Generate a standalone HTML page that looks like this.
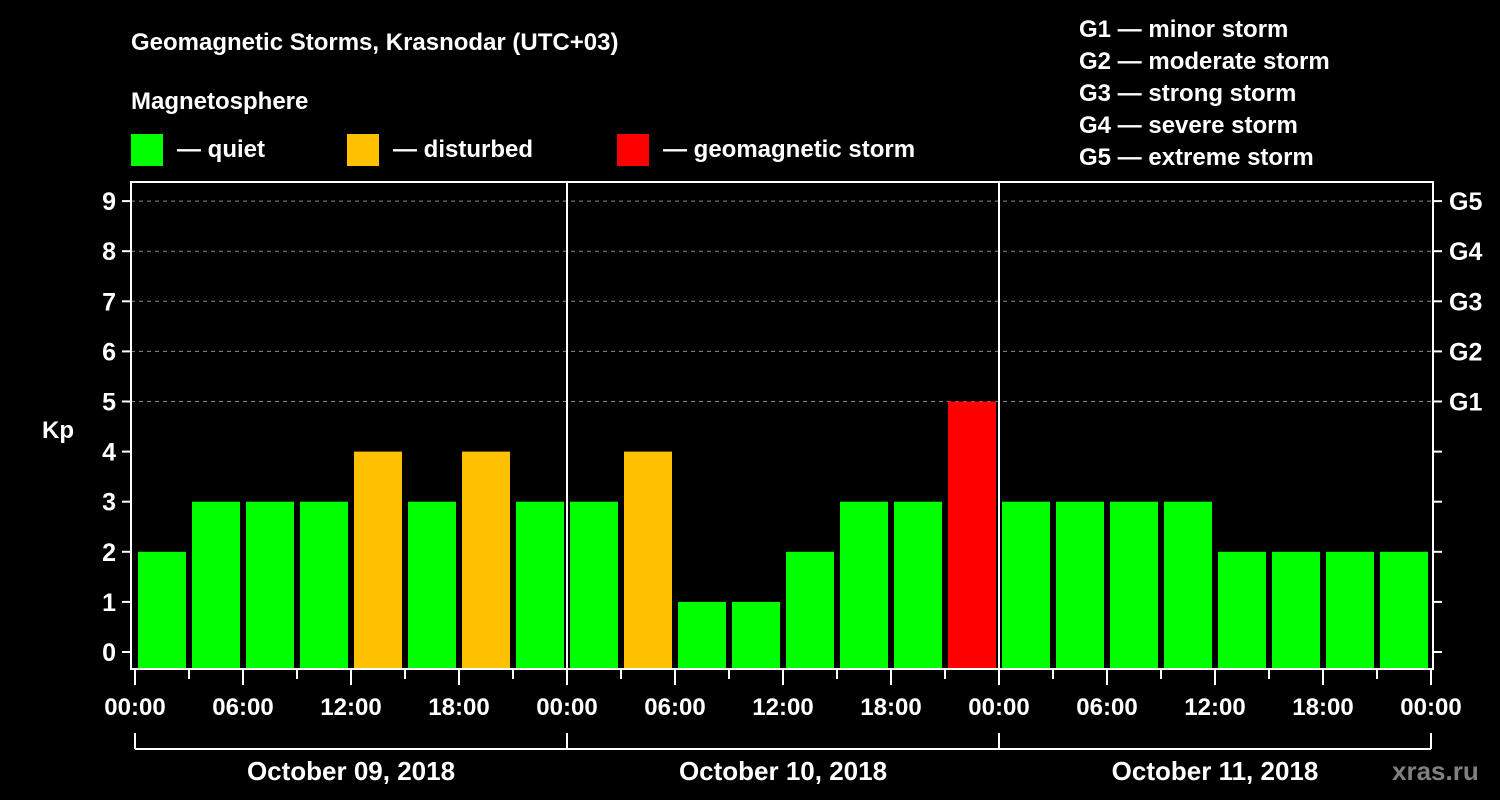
<!DOCTYPE html>
<html><head><meta charset="utf-8"><style>
html,body{margin:0;padding:0;background:#000;}
svg{display:block;font-family:"Liberation Sans",sans-serif;font-weight:bold;}
</style></head><body>
<svg id="c" width="1500" height="800" viewBox="0 0 1500 800">
<text x="131" y="50" fill="#fff" font-size="24">Geomagnetic Storms, Krasnodar (UTC+03)</text>
<text x="131" y="109" fill="#fff" font-size="24">Magnetosphere</text>
<rect x="131" y="134" width="32" height="32" fill="#00ff00"/>
<text x="177" y="157" fill="#fff" font-size="24">— quiet</text>
<rect x="347" y="134" width="32" height="32" fill="#ffc000"/>
<text x="393" y="157" fill="#fff" font-size="24">— disturbed</text>
<rect x="617" y="134" width="32" height="32" fill="#ff0000"/>
<text x="663" y="157" fill="#fff" font-size="24">— geomagnetic storm</text>
<g fill="#fff" font-size="24">
<text x="1079" y="37">G1 — minor storm</text>
<text x="1079" y="69">G2 — moderate storm</text>
<text x="1079" y="101">G3 — strong storm</text>
<text x="1079" y="133">G4 — severe storm</text>
<text x="1079" y="165">G5 — extreme storm</text>
</g>
<text x="42" y="438" fill="#fff" font-size="24">Kp</text>
<text x="1392" y="780" fill="#808080" font-size="26">xras.ru</text>
<g id="plot"></g>
</svg>
<script>
const days = ["October 09, 2018","October 10, 2018","October 11, 2018"];
const kpValues = [2,3,3,3,4,3,4,3, 3,4,1,1,2,3,3,5, 3,3,3,3,2,2,2,2];
const yTicks = [0,1,2,3,4,5,6,7,8,9];
const gLabels = ["G1","G2","G3","G4","G5"];
const xTickLabels = ["00:00","06:00","12:00","18:00"];

const NS="http://www.w3.org/2000/svg";
const g=document.getElementById('plot');
const L=131,R=1433,T=182,B=669;
const x=h=>135+18*h;
const y=v=>652-50.1*v;
function mk(tag,at){const e=document.createElementNS(NS,tag);for(const k in at)e.setAttribute(k,at[k]);g.appendChild(e);return e;}
function color(v){return v>=5?"#ff0000":v>=4?"#ffc000":"#00ff00";}

// grid
for(const v of yTicks){ if(v>=5){const l=mk('line',{x1:L,x2:R,y1:y(v),y2:y(v),stroke:'#888','stroke-dasharray':'4,4','stroke-width':1});

}}
// bars
kpValues.forEach((v,i)=>{const r=mk('rect',{x:x(i*3)+3,y:y(v),width:48,height:B-y(v),fill:color(v)});

});
// frame
const f=mk('rect',{x:L,y:T,width:R-L,height:B-T,fill:'none',stroke:'#fff','stroke-width':2});


// day dividers
for(let d=1;d<days.length;d++){const l=mk('line',{x1:x(24*d),x2:x(24*d),y1:T,y2:B,stroke:'#fff','stroke-width':2});

}
// y ticks
for(const v of yTicks){
 const t=mk('line',{x1:122,x2:L,y1:y(v),y2:y(v),stroke:'#fff','stroke-width':2});
 
 
 const tx=mk('text',{x:116,y:y(v)+9,fill:'#fff','font-size':25,'text-anchor':'end'});tx.textContent=v;
 
 
 const t2=mk('line',{x1:R,x2:1442,y1:y(v),y2:y(v),stroke:'#fff','stroke-width':2});
 
 
}
gLabels.forEach((s,i)=>{const tx=mk('text',{x:1449,y:y(5+i)+9,fill:'#fff','font-size':25});tx.textContent=s;

});
// x ticks
const nd=days.length;
for(let h=0;h<=24*nd;h+=3){
 const major=h%6===0;
 const t=mk('line',{x1:x(h),x2:x(h),y1:B,y2:major?685:679,stroke:'#fff','stroke-width':2});
 
 
 if(major){const tx=mk('text',{x:x(h),y:715,fill:'#fff','font-size':24,'text-anchor':'middle'});tx.textContent=xTickLabels[(h%24)/6];
 
 }
}
// day brackets
const bl=mk('line',{x1:x(0),x2:x(24*nd),y1:749,y2:749,stroke:'#fff','stroke-width':2});


for(let d=0;d<=nd;d++){const l=mk('line',{x1:x(24*d),x2:x(24*d),y1:733,y2:749,stroke:'#fff','stroke-width':2});

}
days.forEach((s,d)=>{const tx=mk('text',{x:x(24*d+12),y:780,fill:'#fff','font-size':26,'text-anchor':'middle'});tx.textContent=s;

});
</script>
</body></html>
